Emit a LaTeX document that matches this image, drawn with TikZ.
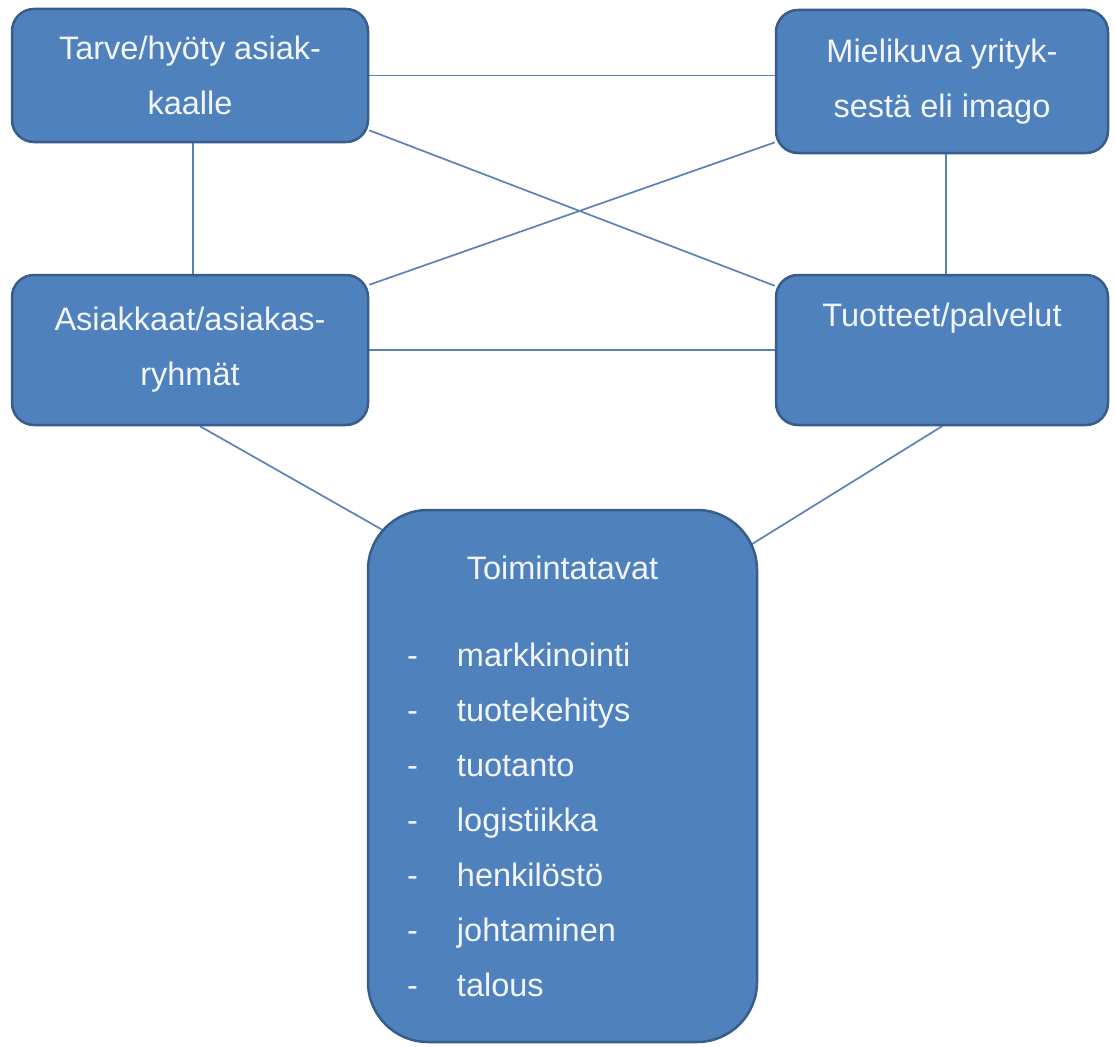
\documentclass[tikz,border=0pt]{standalone}
\usepackage{fontspec}
\setmainfont{Liberation Sans}
\usetikzlibrary{backgrounds,calc}
\definecolor{boxfill}{HTML}{4F81BD}
\definecolor{boxedge}{HTML}{385D8A}
\definecolor{connclr}{HTML}{5B82B6}
\definecolor{txtclr}{HTML}{F2F6FC}
\begin{document}
\begin{tikzpicture}[x=1pt,y=-1pt,
  box/.style={draw=boxedge,line width=2.5pt,fill=boxfill,rounded corners=22pt,text=txtclr,align=center,inner sep=0pt,font=\fontsize{32.5}{55}\selectfont},
  connector/.style={draw=connclr,line width=1.7pt}]
\useasboundingbox (0,0) rectangle (1115,1046);
\node[box,minimum width=356,minimum height=133] (tl) at (190,75.5) {Tarve/hyöty asiak-\\kaalle};
\node[box,minimum width=332,minimum height=143] (tr) at (942,81.5) {Mielikuva yrityk-\\sestä eli imago};
\node[box,minimum width=356,minimum height=150] (ml) at (190,350) {Asiakkaat/asiakas-\\ryhmät};
\node[box,minimum width=332,minimum height=150] (mr) at (942,350) {Tuotteet/palvelut\\\strut};
\node[box,rounded corners=60pt,minimum width=389,minimum height=532,text width=311pt,align=left] (bot) at (562.5,776)
 {\makebox[311pt][c]{Toimintatavat}\\[32pt]
  \makebox[50pt][l]{-}markkinointi\\
  \makebox[50pt][l]{-}tuotekehitys\\
  \makebox[50pt][l]{-}tuotanto\\
  \makebox[50pt][l]{-}logistiikka\\
  \makebox[50pt][l]{-}henkilöstö\\
  \makebox[50pt][l]{-}johtaminen\\
  \makebox[50pt][l]{-}talous};
\coordinate (bl) at (395,537);
\coordinate (br) at (740,551.5);
\begin{scope}[on background layer]
\draw[connector] (tl.east) -- (tl.east -| tr.west);
\draw[connector] ([xshift=3pt]tl.south) -- ([xshift=3pt]ml.north);
\draw[connector] ([xshift=4pt]tr.south) -- ([xshift=4pt]mr.north);
\draw[connector] (tl.-17) -- (mr.159);
\draw[connector] (tr.200) -- (ml.20);
\draw[connector] (ml.east) -- (mr.west);
\draw[connector] ([xshift=10pt]ml.south) -- (bl);
\draw[connector] (mr.south) -- (br);
\end{scope}
\end{tikzpicture}
\end{document}
